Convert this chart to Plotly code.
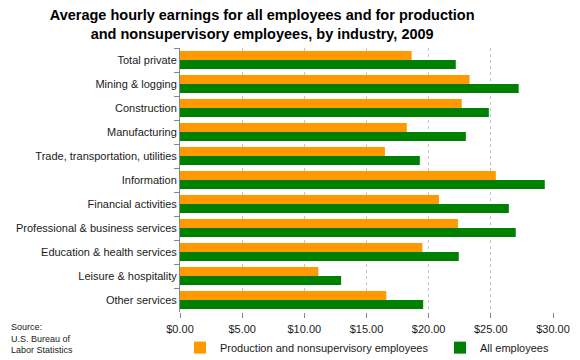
import plotly.graph_objects as go

categories = ["Total private", "Mining & logging", "Construction", "Manufacturing",
              "Trade, transportation, utilities", "Information", "Financial activities",
              "Professional & business services", "Education & health services",
              "Leisure & hospitality", "Other services"]
production = [18.63, 23.29, 22.66, 18.24, 16.48, 25.40, 20.83, 22.35, 19.49, 11.12, 16.59]
all_emp = [22.18, 27.24, 24.84, 22.99, 19.29, 29.34, 26.45, 27.00, 22.42, 12.96, 19.56]
xticks = [0, 5, 10, 15, 20, 25, 30]

fig = go.Figure()
fig.add_trace(go.Bar(y=categories, x=production, orientation="h",
                     name="Production and nonsupervisory employees",
                     marker=dict(color="#FF9900", line=dict(width=0)), legend="legend"))
fig.add_trace(go.Bar(y=categories, x=all_emp, orientation="h",
                     name="All employees",
                     marker=dict(color="#008000", line=dict(width=0)), legend="legend2"))

leg_common = dict(orientation="h", xref="paper", xanchor="left", yref="paper",
                  y=-0.08, yanchor="top", font=dict(size=11, color="#1a1a1a"),
                  itemwidth=30, bgcolor="rgba(0,0,0,0)")

fig.update_layout(
    width=580, height=360,
    margin=dict(l=180, r=27, t=48, b=48, autoexpand=False),
    paper_bgcolor="white", plot_bgcolor="white",
    font=dict(family="Liberation Sans, Arial", size=11, color="#1a1a1a"),
    barmode="group", bargap=0.25, bargroupgap=0,
    title=dict(text="<b>Average hourly earnings for all employees and for production<br>and nonsupervisory employees, by industry, 2009</b>",
               x=0.452, xanchor="center", xref="container", yref="container",
               y=0.945, yanchor="middle",
               font=dict(size=14.5, color="black", family="Liberation Sans, Arial")),
    showlegend=True,
    legend=dict(x=0.0, **leg_common),
    legend2=dict(x=0.697, **leg_common),
    xaxis=dict(range=[0, 30], tickvals=xticks, tickformat="$.2f",
               showgrid=True, gridcolor="#C4C4C4", griddash="dot", gridwidth=1,
               zeroline=False, showline=False,
               ticks="outside", ticklen=5, tickcolor="#888888",
               ticklabelstandoff=2,
               tickfont=dict(size=11, color="#1a1a1a")),
    yaxis=dict(autorange="reversed", showline=True, linecolor="#888888", linewidth=1,
               ticks="outside", tickson="boundaries", ticklen=5, tickcolor="#888888",
               tickfont=dict(size=11, color="#1a1a1a"), showgrid=False),
)

fig.add_annotation(text="Source:<br>U.S. Bureau of<br>Labor Statistics",
                   xref="paper", yref="paper", x=-0.458, y=-0.03,
                   xanchor="left", yanchor="top", align="left", showarrow=False,
                   font=dict(size=9, color="#1a1a1a"))

fig.write_html("out.html", config={"displayModeBar": False},
               post_script="document.body.style.margin='0px';")
